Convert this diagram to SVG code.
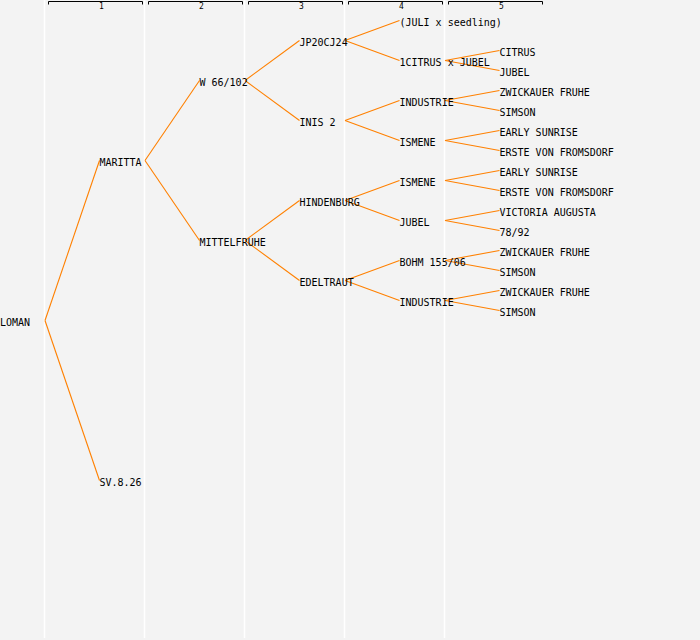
<svg xmlns="http://www.w3.org/2000/svg" width="700" height="640" viewBox="0 0 700 640">
<style>
.bg{fill:#f3f3f3}
.col{stroke:#ffffff;stroke-width:1.5;fill:none}
.br{stroke:#000;stroke-width:1;fill:none}
.hd{font-family:"DejaVu Sans Mono","Liberation Mono",monospace;font-size:8px;fill:#000;text-anchor:middle}
.n text{font-family:"DejaVu Sans Mono","Liberation Mono",monospace;font-size:10px;fill:#000}
.e line{stroke:#ff8000;stroke-width:1.1}
</style>
<rect class="bg" x="0" y="0" width="700" height="640"/>
<g id="columns">
<line class="col" x1="44.5" y1="0" x2="44.5" y2="638"/>
<line class="col" x1="144.5" y1="0" x2="144.5" y2="638"/>
<line class="col" x1="244.5" y1="0" x2="244.5" y2="638"/>
<line class="col" x1="344.5" y1="0" x2="344.5" y2="638"/>
<line class="col" x1="444.5" y1="0" x2="444.5" y2="638"/>
</g>
<g id="header">
<path class="br" d="M48.5,4.5V1.5H142.5V4.5"/>
<path class="br" d="M148.5,4.5V1.5H242.5V4.5"/>
<path class="br" d="M248.5,4.5V1.5H342.5V4.5"/>
<path class="br" d="M348.5,4.5V1.5H442.5V4.5"/>
<path class="br" d="M448.5,4.5V1.5H542.5V4.5"/>
<text class="hd" x="101.5" y="9">1</text>
<text class="hd" x="201.5" y="9">2</text>
<text class="hd" x="301.5" y="9">3</text>
<text class="hd" x="401.5" y="9">4</text>
<text class="hd" x="501.5" y="9">5</text>
</g>
<g id="edges" class="e">
<line x1="45" y1="320.5" x2="99.5" y2="160.5"/>
<line x1="45" y1="320.5" x2="99.5" y2="480.5"/>
<line x1="145" y1="160.5" x2="199.5" y2="80.5"/>
<line x1="145" y1="160.5" x2="199.5" y2="240.5"/>
<line x1="245" y1="80.5" x2="299.5" y2="40.5"/>
<line x1="245" y1="80.5" x2="299.5" y2="120.5"/>
<line x1="245" y1="240.5" x2="299.5" y2="200.5"/>
<line x1="245" y1="240.5" x2="299.5" y2="280.5"/>
<line x1="345" y1="40.5" x2="399.5" y2="20.5"/>
<line x1="345" y1="40.5" x2="399.5" y2="60.5"/>
<line x1="345" y1="120.5" x2="399.5" y2="100.5"/>
<line x1="345" y1="120.5" x2="399.5" y2="140.5"/>
<line x1="345" y1="200.5" x2="399.5" y2="180.5"/>
<line x1="345" y1="200.5" x2="399.5" y2="220.5"/>
<line x1="345" y1="280.5" x2="399.5" y2="260.5"/>
<line x1="345" y1="280.5" x2="399.5" y2="300.5"/>
<line x1="445" y1="60.5" x2="499.5" y2="50.5"/>
<line x1="445" y1="60.5" x2="499.5" y2="70.5"/>
<line x1="445" y1="100.5" x2="499.5" y2="90.5"/>
<line x1="445" y1="100.5" x2="499.5" y2="110.5"/>
<line x1="445" y1="140.5" x2="499.5" y2="130.5"/>
<line x1="445" y1="140.5" x2="499.5" y2="150.5"/>
<line x1="445" y1="180.5" x2="499.5" y2="170.5"/>
<line x1="445" y1="180.5" x2="499.5" y2="190.5"/>
<line x1="445" y1="220.5" x2="499.5" y2="210.5"/>
<line x1="445" y1="220.5" x2="499.5" y2="230.5"/>
<line x1="445" y1="260.5" x2="499.5" y2="250.5"/>
<line x1="445" y1="260.5" x2="499.5" y2="270.5"/>
<line x1="445" y1="300.5" x2="499.5" y2="290.5"/>
<line x1="445" y1="300.5" x2="499.5" y2="310.5"/>
</g>
<g class="n">
<g id="n-loman"><text x="0" y="326">LOMAN</text></g>
<g id="n-maritta"><text x="99.5" y="166">MARITTA</text></g>
<g id="n-sv826"><text x="99.5" y="486">SV.8.26</text></g>
<g id="n-w66102"><text x="199.5" y="86">W 66/102</text></g>
<g id="n-mittelfruhe"><text x="199.5" y="246">MITTELFRUHE</text></g>
<g id="n-jp20cj24"><text x="299.5" y="46">JP20CJ24</text></g>
<g id="n-inis2"><text x="299.5" y="126">INIS 2</text></g>
<g id="n-hindenburg"><text x="299.5" y="206">HINDENBURG</text></g>
<g id="n-edeltraut"><text x="299.5" y="286">EDELTRAUT</text></g>
<g id="n-juli"><text x="399.5" y="26">(JULI x seedling)</text></g>
<g id="n-1citrus"><text x="399.5" y="66">1CITRUS x JUBEL</text></g>
<g id="n-industrie1"><text x="399.5" y="106">INDUSTRIE</text></g>
<g id="n-ismene1"><text x="399.5" y="146">ISMENE</text></g>
<g id="n-ismene2"><text x="399.5" y="186">ISMENE</text></g>
<g id="n-jubel1"><text x="399.5" y="226">JUBEL</text></g>
<g id="n-bohm"><text x="399.5" y="266">BOHM 155/06</text></g>
<g id="n-industrie2"><text x="399.5" y="306">INDUSTRIE</text></g>
<g id="n-citrus"><text x="499.5" y="56">CITRUS</text></g>
<g id="n-jubel2"><text x="499.5" y="76">JUBEL</text></g>
<g id="n-zw1"><text x="499.5" y="96">ZWICKAUER FRUHE</text></g>
<g id="n-simson1"><text x="499.5" y="116">SIMSON</text></g>
<g id="n-early1"><text x="499.5" y="136">EARLY SUNRISE</text></g>
<g id="n-erste1"><text x="499.5" y="156">ERSTE VON FROMSDORF</text></g>
<g id="n-early2"><text x="499.5" y="176">EARLY SUNRISE</text></g>
<g id="n-erste2"><text x="499.5" y="196">ERSTE VON FROMSDORF</text></g>
<g id="n-victoria"><text x="499.5" y="216">VICTORIA AUGUSTA</text></g>
<g id="n-7892"><text x="499.5" y="236">78/92</text></g>
<g id="n-zw2"><text x="499.5" y="256">ZWICKAUER FRUHE</text></g>
<g id="n-simson2"><text x="499.5" y="276">SIMSON</text></g>
<g id="n-zw3"><text x="499.5" y="296">ZWICKAUER FRUHE</text></g>
<g id="n-simson3"><text x="499.5" y="316">SIMSON</text></g>
</g>
</svg>
